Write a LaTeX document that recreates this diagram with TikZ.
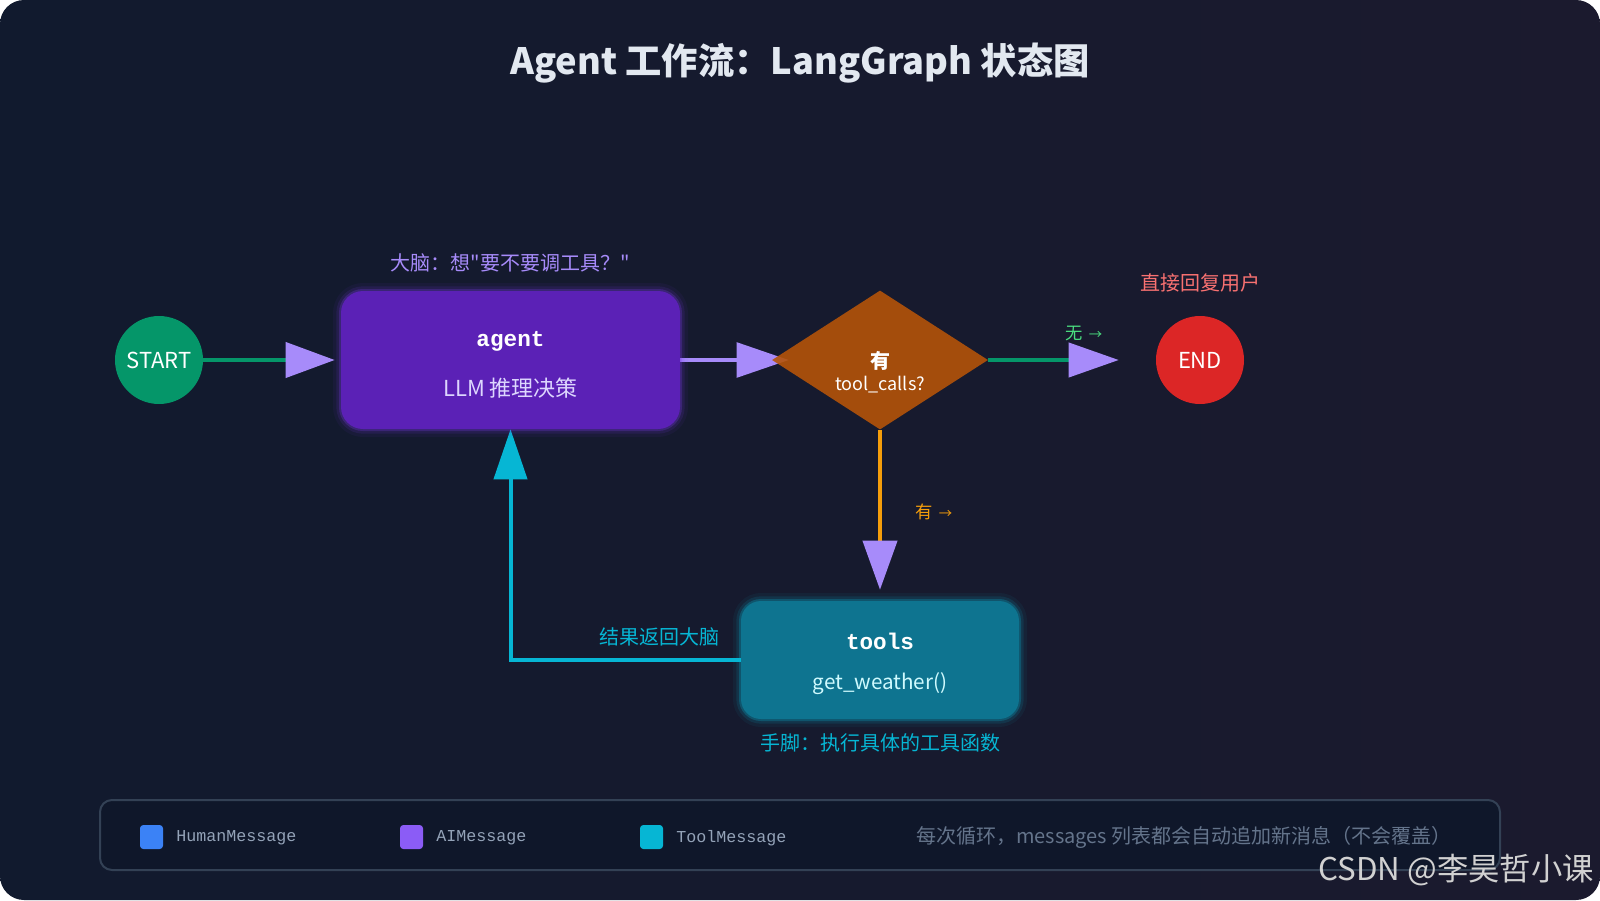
\documentclass[tikz,border=0pt]{standalone}
\usepackage{fontspec}
\setmainfont{Noto Sans CJK SC}
\newfontfamily\plaincjk{Noto Sans CJK SC}
\newfontfamily\monofont{Liberation Mono}
\usetikzlibrary{shapes.geometric,arrows.meta}
\definecolor{bgA}{HTML}{111A2E}
\definecolor{bgB}{HTML}{1B1A2E}
\definecolor{cgreen}{HTML}{059669}
\definecolor{cagent}{HTML}{5B21B6}
\definecolor{cviolet}{HTML}{7C3AED}
\definecolor{cdia}{HTML}{B45309}
\definecolor{cred}{HTML}{DC2626}
\definecolor{ctools}{HTML}{0E7490}
\definecolor{ccyan}{HTML}{06B6D4}
\definecolor{apurple}{HTML}{A78BFA}
\definecolor{corange}{HTML}{F59E0B}
\definecolor{lred}{HTML}{F87171}
\definecolor{lgreen}{HTML}{4ADE80}
\definecolor{ctitle}{HTML}{E2E8F0}
\definecolor{lpurple}{HTML}{DDD6FE}
\definecolor{lcyan}{HTML}{CFFAFE}
\definecolor{legfill}{HTML}{0F172A}
\definecolor{legborder}{HTML}{334155}
\definecolor{legtext}{HTML}{94A3B8}
\definecolor{legnote}{HTML}{64748B}
\definecolor{cblue}{HTML}{3B82F6}
\definecolor{cpurple}{HTML}{8B5CF6}
\pgfdeclarelayer{back}
\pgfdeclarelayer{mid}
\pgfsetlayers{back,mid,main}
\begin{document}
\begin{tikzpicture}[x=0.75pt,y=-0.75pt,
  fs/.style={font=\fontsize{#1}{#1}\selectfont},
  term/.style={circle, minimum size=66pt, inner sep=0pt, text=white, fs=16.5pt},
  glow/.style={preaction={draw=#1, line width=12pt, draw opacity=0.06},
               preaction={draw=#1, line width=7pt, draw opacity=0.12},
               preaction={draw=#1, line width=3pt, draw opacity=0.25}},
  agentbox/.style={rectangle, rounded corners=16.5pt, fill=cagent, glow=cviolet,
               minimum width=254.25pt, minimum height=103.5pt, inner sep=0pt},
  toolsbox/.style={rectangle, rounded corners=15pt, fill=ctools, glow=ccyan,
               minimum width=208.5pt, minimum height=88.5pt, inner sep=0pt},
  dia/.style={diamond, fill=cdia, fill opacity=0.9, minimum width=162pt,
               minimum height=104.25pt, inner sep=0pt},
  boxname/.style={text=white, font=\monofont\bfseries\fontsize{17pt}{17pt}\selectfont},
  lbl/.style={fs=15pt},
  small/.style={fs=13pt},
  conn/.style={line width=3pt},
  tip/.style n args={3}{-{Triangle[length=#1, width=#2, color=#3]}},
  sw/.style={rectangle, rounded corners=2.5pt, minimum width=17.25pt, minimum height=18pt, inner sep=0pt},
  legt/.style={text=legtext, font=\monofont\fontsize{12.5pt}{12.5pt}\selectfont, anchor=west, inner sep=0pt}
]
\useasboundingbox (0,0) rectangle (1600,900);
\begin{pgfonlayer}{back}
  \fill[white] (0,0) rectangle (1600,900);
  \shade[rounded corners=18pt, left color=bgA, right color=bgB] (0,0) rectangle (1600,900);
\end{pgfonlayer}

% title
\node[text=ctitle, font=\bfseries\fontsize{27.2pt}{27.2pt}\selectfont] (title) at (800,63) {Agent 工作流：LangGraph 状态图};

% nodes
\node[term, fill=cgreen] (start) at (159,360) {START};
\node[agentbox] (agent) at (510.5,360) {};
\node[boxname] (agentT) at (510.5,341) {agent};
\node[text=lpurple, fs=16.5pt] (agentS) at (510.5,388) {LLM 推理决策};
\node[text=apurple, font=\plaincjk\fontsize{15pt}{15pt}\selectfont] (agentL) at (510,263) {大脑：想"要不要调工具？"};

\node[dia] (dec) at (880,360) {};
\node[text=white, font=\bfseries\fontsize{15pt}{15pt}\selectfont] (decA) at (880,361) {有};
\node[text=white, fs=13.5pt] (decB) at (880,385) {tool\_calls?};

\node[term, fill=cred] (end) at (1200,360) {END};
\node[text=lred, lbl] (endL) at (1200,283) {直接回复用户};

\node[toolsbox] (tools) at (880,660) {};
\node[boxname] (toolsT) at (880,641) {tools};
\node[text=lcyan, fs=15.5pt] (toolsS) at (880,684) {get\_weather()};
\node[text=ccyan, lbl] (toolsL) at (880,743) {手脚：执行具体的工具函数};

% connector labels
\node[text=lgreen, small] (noL) at (1084,333) {无\,\,{\fontsize{10pt}{10pt}\selectfont →}};
\node[text=corange, small] (yesL) at (934,512) {有\,\,{\fontsize{10pt}{10pt}\selectfont →}};
\node[text=ccyan, lbl] (backL) at (659,637) {结果返回大脑};

% connectors
\begin{pgfonlayer}{mid}
  \draw[conn, cgreen, tip={36.75pt}{26.25pt}{apurple}, shorten >=4.5pt] (start) -- (agent.west);
  \draw[line width=2.6pt, apurple, tip={39pt}{26pt}{apurple}, shorten >=-12.75pt] (agent.east) -- (dec.west);
  \draw[conn, cgreen, tip={37.5pt}{25.5pt}{apurple}, shorten >=27.75pt] (dec.east) -- (end.west);
  \draw[conn, corange, tip={36.75pt}{25.5pt}{apurple}, shorten >=8.25pt] (dec.south) -- (tools.north);
  \draw[conn, ccyan, tip={37.5pt}{24.75pt}{ccyan}] (tools.west) -| (agent.south);
\end{pgfonlayer}

% legend
\node[rectangle, rounded corners=9pt, fill=legfill, draw=legborder, line width=1.5pt,
      minimum width=1050pt, minimum height=52.5pt, inner sep=0pt] (legend) at (800,835) {};
\node[sw, fill=cblue] (swH) at (151.5,837) {};
\node[legt] (tH) at (176,838) {HumanMessage};
\node[sw, fill=cpurple] (swA) at (411.5,837) {};
\node[legt] (tA) at (436,838) {AIMessage};
\node[sw, fill=ccyan] (swT) at (651.5,837) {};
\node[legt] (tT) at (676,838) {ToolMessage};
\node[text=legnote, fs=15pt] (note) at (1184,837) {每次循环，messages 列表都会自动追加新消息（不会覆盖）};

% watermark
\node[text=white!82!black, fs=23.5pt, anchor=east, inner sep=0pt] (wm) at (1594,870) {CSDN @李昊哲小课};
\end{tikzpicture}
\end{document}
